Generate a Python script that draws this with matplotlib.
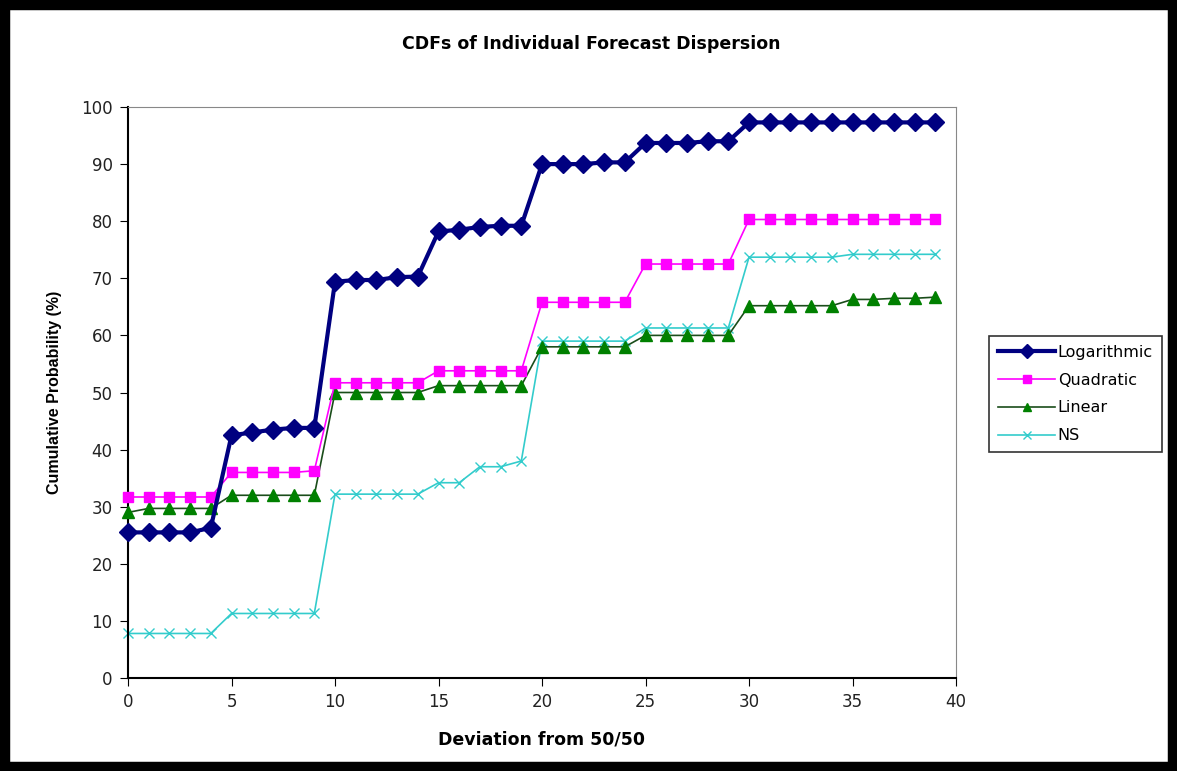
import numpy as np
import matplotlib.pyplot as plt
from matplotlib.patches import Rectangle

# deviation from 50/50
deviation = list(range(40))

logarithmic = [25.5, 25.5, 25.5, 25.5, 26.3, 42.5, 43.0, 43.5, 43.8, 43.8,
               69.4, 69.7, 69.7, 70.2, 70.3, 78.2, 78.5, 79.0, 79.2, 79.2,
               90.0, 90.0, 90.0, 90.3, 90.3, 93.7, 93.7, 93.7, 94.0, 94.0,
               97.3, 97.3, 97.3, 97.3, 97.3, 97.3, 97.3, 97.3, 97.3, 97.3]
quadratic = [31.7, 31.7, 31.7, 31.7, 31.7, 36.0, 36.0, 36.0, 36.0, 36.3,
             51.7, 51.7, 51.7, 51.7, 51.7, 53.8, 53.8, 53.8, 53.8, 53.8,
             65.8, 65.8, 65.8, 65.8, 65.8, 72.5, 72.5, 72.5, 72.5, 72.5,
             80.3, 80.3, 80.3, 80.3, 80.3, 80.3, 80.3, 80.3, 80.3, 80.3]
linear = [29.0, 29.7, 29.7, 29.7, 29.7, 32.0, 32.0, 32.0, 32.0, 32.0,
          50.0, 50.0, 50.0, 50.0, 50.0, 51.2, 51.2, 51.2, 51.2, 51.2,
          58.0, 58.0, 58.0, 58.0, 58.0, 60.0, 60.0, 60.0, 60.0, 60.0,
          65.2, 65.2, 65.2, 65.2, 65.2, 66.3, 66.3, 66.5, 66.5, 66.7]
ns = [7.8, 7.8, 7.8, 7.8, 7.8, 11.3, 11.3, 11.3, 11.3, 11.3,
      32.2, 32.2, 32.2, 32.2, 32.2, 34.2, 34.2, 37.0, 37.0, 38.0,
      59.0, 59.0, 59.0, 59.0, 59.0, 61.3, 61.3, 61.3, 61.3, 61.3,
      73.7, 73.7, 73.7, 73.7, 73.7, 74.2, 74.2, 74.2, 74.2, 74.2]

plt.rcParams['font.family'] = ['DejaVu Sans']

W, H = 1177, 771
fig = plt.figure(figsize=(W / 100, H / 100), dpi=100)

# thick black frame around the whole chart
fig.patches.append(Rectangle((0, 0), 1, 1, transform=fig.transFigure,
                             fill=False, edgecolor='black', linewidth=14, zorder=10))

ax = fig.add_axes([128 / W, 1 - 678 / H, (956 - 128) / W, (678 - 107) / H])

ax.plot(deviation, logarithmic, color='#000080', lw=3, marker='D', ms=9,
        label='Logarithmic', clip_on=False, zorder=5)
ax.plot(deviation, quadratic, color='#FF00FF', lw=1.2, marker='s', ms=7.5,
        label='Quadratic', clip_on=False, zorder=4)
ax.plot(deviation, linear, color='#1a4d1a', lw=1.2, marker='^', ms=8.5,
        markerfacecolor='#008000', markeredgecolor='#008000',
        label='Linear', clip_on=False, zorder=3)
ax.plot(deviation, ns, color='#33CCCC', lw=1.2, marker='x', ms=7, mew=1,
        label='NS', clip_on=False, zorder=2)

ax.set_xlim(0, 40)
ax.set_ylim(0, 100)
ax.set_xticks(range(0, 41, 5))
ax.set_yticks(range(0, 101, 10))
ax.tick_params(direction='out', length=6, labelsize=12, pad=5,
               labelcolor='#222222')

for side in ['top', 'right']:
    ax.spines[side].set_color('#888888')
for side in ['left', 'bottom']:
    ax.spines[side].set_color('black')
    ax.spines[side].set_linewidth(1.5)

ax.set_xlabel('Deviation from 50/50', fontsize=12.5, fontweight='bold', labelpad=14)
ax.set_ylabel('Cumulative Probability (%)', fontsize=11.5, fontweight='bold',
              labelpad=14, family=['Liberation Sans Narrow', 'Liberation Sans'])
fig.text(591 / W, 1 - 44 / H, 'CDFs of Individual Forecast Dispersion',
         ha='center', va='center', fontsize=12.5, fontweight='bold')

leg = ax.legend(loc='center left', bbox_to_anchor=(989 / W, 1 - 394 / H),
                bbox_transform=fig.transFigure, frameon=True, fancybox=False,
                edgecolor='black', fontsize=11.5, handlelength=3.6,
                handletextpad=0.15, labelspacing=0.8, borderpad=0.55,
                markerscale=0.75, borderaxespad=0)
leg.get_frame().set_linewidth(1.2)

fig.savefig('out.png', dpi=100, facecolor='white')
